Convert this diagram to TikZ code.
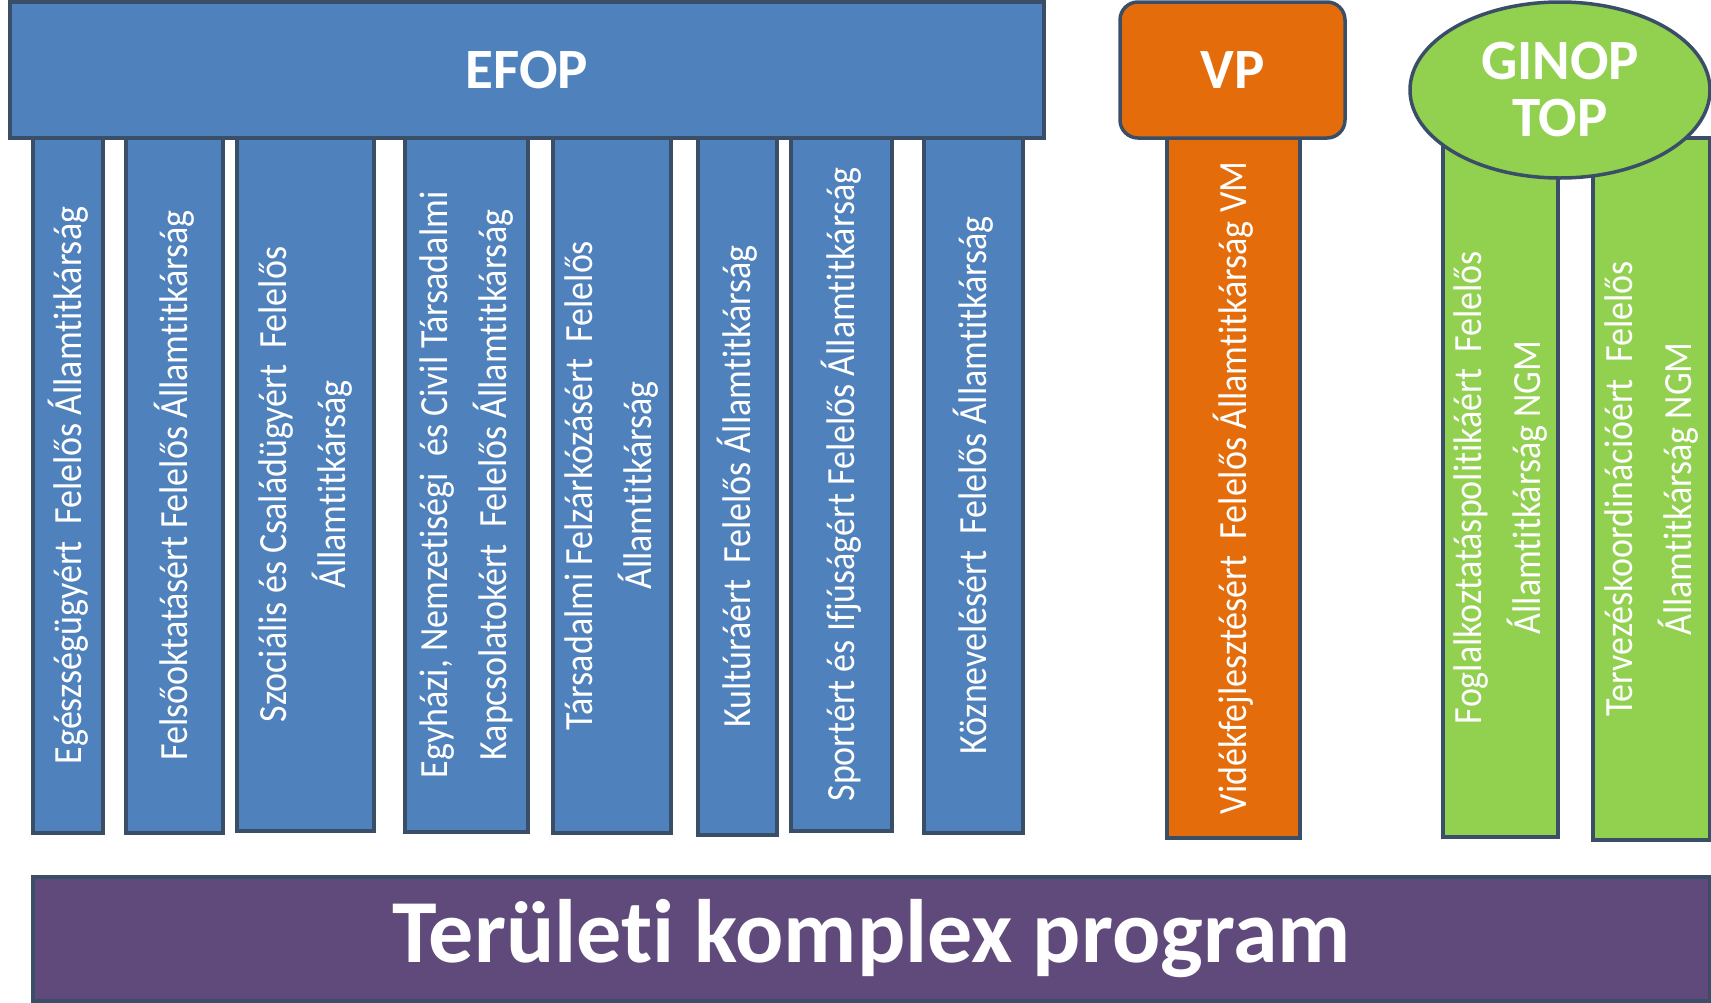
\documentclass[tikz,border=0pt]{standalone}
\usepackage{fontspec}
\setmainfont{Carlito}[RawFeature={-liga;-clig;-dlig;-calt}]
\newfontfamily\colfont{Carlito}[FakeStretch=0.9, RawFeature={-liga;-clig;-dlig;-calt}]
\usepackage{tikz}
\usetikzlibrary{shapes.geometric}

\definecolor{efopblue}{HTML}{4F81BD}
\definecolor{vporange}{HTML}{E46C0A}
\definecolor{ginopgreen}{HTML}{92D050}
\definecolor{tkppurple}{HTML}{604A7B}
\definecolor{edgegray}{HTML}{3B4E68}

\begin{document}
\begin{tikzpicture}[x=1pt, y=-1pt,
  box/.style={draw=edgegray, line width=3.5pt, text=white, inner sep=0pt},
  colbox/.style={box, rotate=90, align=center, font=\colfont\fontsize{40}{59}\selectfont},
  headbox/.style={box, align=center, font=\bfseries\fontsize{57}{57}\selectfont}]
  \useasboundingbox (0,0) rectangle (1711,1002);

  % EFOP columns
  \node[colbox, fill=efopblue, minimum width=695, minimum height=70] (egeszseg) at (68,485.5)
    {Egészségügyért~ Felelős Államtitkárság};
  \node[colbox, fill=efopblue, minimum width=695, minimum height=97] (felsooktatas) at (174.5,485.5)
    {Felsőoktatásért Felelős Államtitkárság};
  \node[colbox, fill=efopblue, minimum width=693, minimum height=137] (szocialis) at (305.5,484.5)
    {Szociális és Családügyért~ Felelős\\Államtitkárság};
  \node[colbox, fill=efopblue, minimum width=694, minimum height=123] (egyhazi) at (466.5,485)
    {Egyházi, Nemzetiségi~ és Civil Társadalmi\\Kapcsolatokért~ Felelős Államtitkárság};
  \node[colbox, fill=efopblue, minimum width=695, minimum height=118] (felzarkozas) at (612,485.5)
    {Társadalmi Felzárkózásért~ Felelős\\Államtitkárság};
  \node[colbox, fill=efopblue, minimum width=697, minimum height=79] (kultura) at (737.5,486.5)
    {Kultúráért~ Felelős Államtitkárság};
  \node[colbox, fill=efopblue, minimum width=693, minimum height=101] (sport) at (841.5,484.5)
    {Sportért és Ifjúságért Felelős Államtitkárság};
  \node[colbox, fill=efopblue, minimum width=695, minimum height=99] (koznevels) at (973.5,485.5)
    {Köznevelésért~ Felelős Államtitkárság};

  % VP column
  \node[colbox, fill=vporange, minimum width=700, minimum height=133] (videk) at (1233.5,488)
    {Vidékfejlesztésért~ Felelős Államtitkárság VM};

  % GINOP / TOP columns
  \node[colbox, fill=ginopgreen, minimum width=699, minimum height=115] (foglalkoztatas) at (1500.5,487.5)
    {Foglalkoztatáspolitikáért~ Felelős\\Államtitkárság NGM};
  \node[colbox, fill=ginopgreen, minimum width=702, minimum height=117] (tervezes) at (1651.5,489)
    {Tervezéskoordinációért~ Felelős\\Államtitkárság NGM};

  % headers on top of the columns
  \node[headbox, fill=efopblue, minimum width=1034, minimum height=136] (efop) at (527,70) {EFOP};
  \node[headbox, fill=vporange, rounded corners=18pt, minimum width=225, minimum height=136] (vp) at (1232.5,70) {VP};
  \node[headbox, ellipse, fill=ginopgreen, minimum width=300, minimum height=176] (ginop) at (1560,90) {GINOP\\TOP};

  % bottom bar
  \node[box, fill=tkppurple, minimum width=1677, minimum height=124,
    font=\bfseries\fontsize{90}{90}\selectfont] (terulet) at (871.5,939) {Területi komplex program};
\end{tikzpicture}
\end{document}
